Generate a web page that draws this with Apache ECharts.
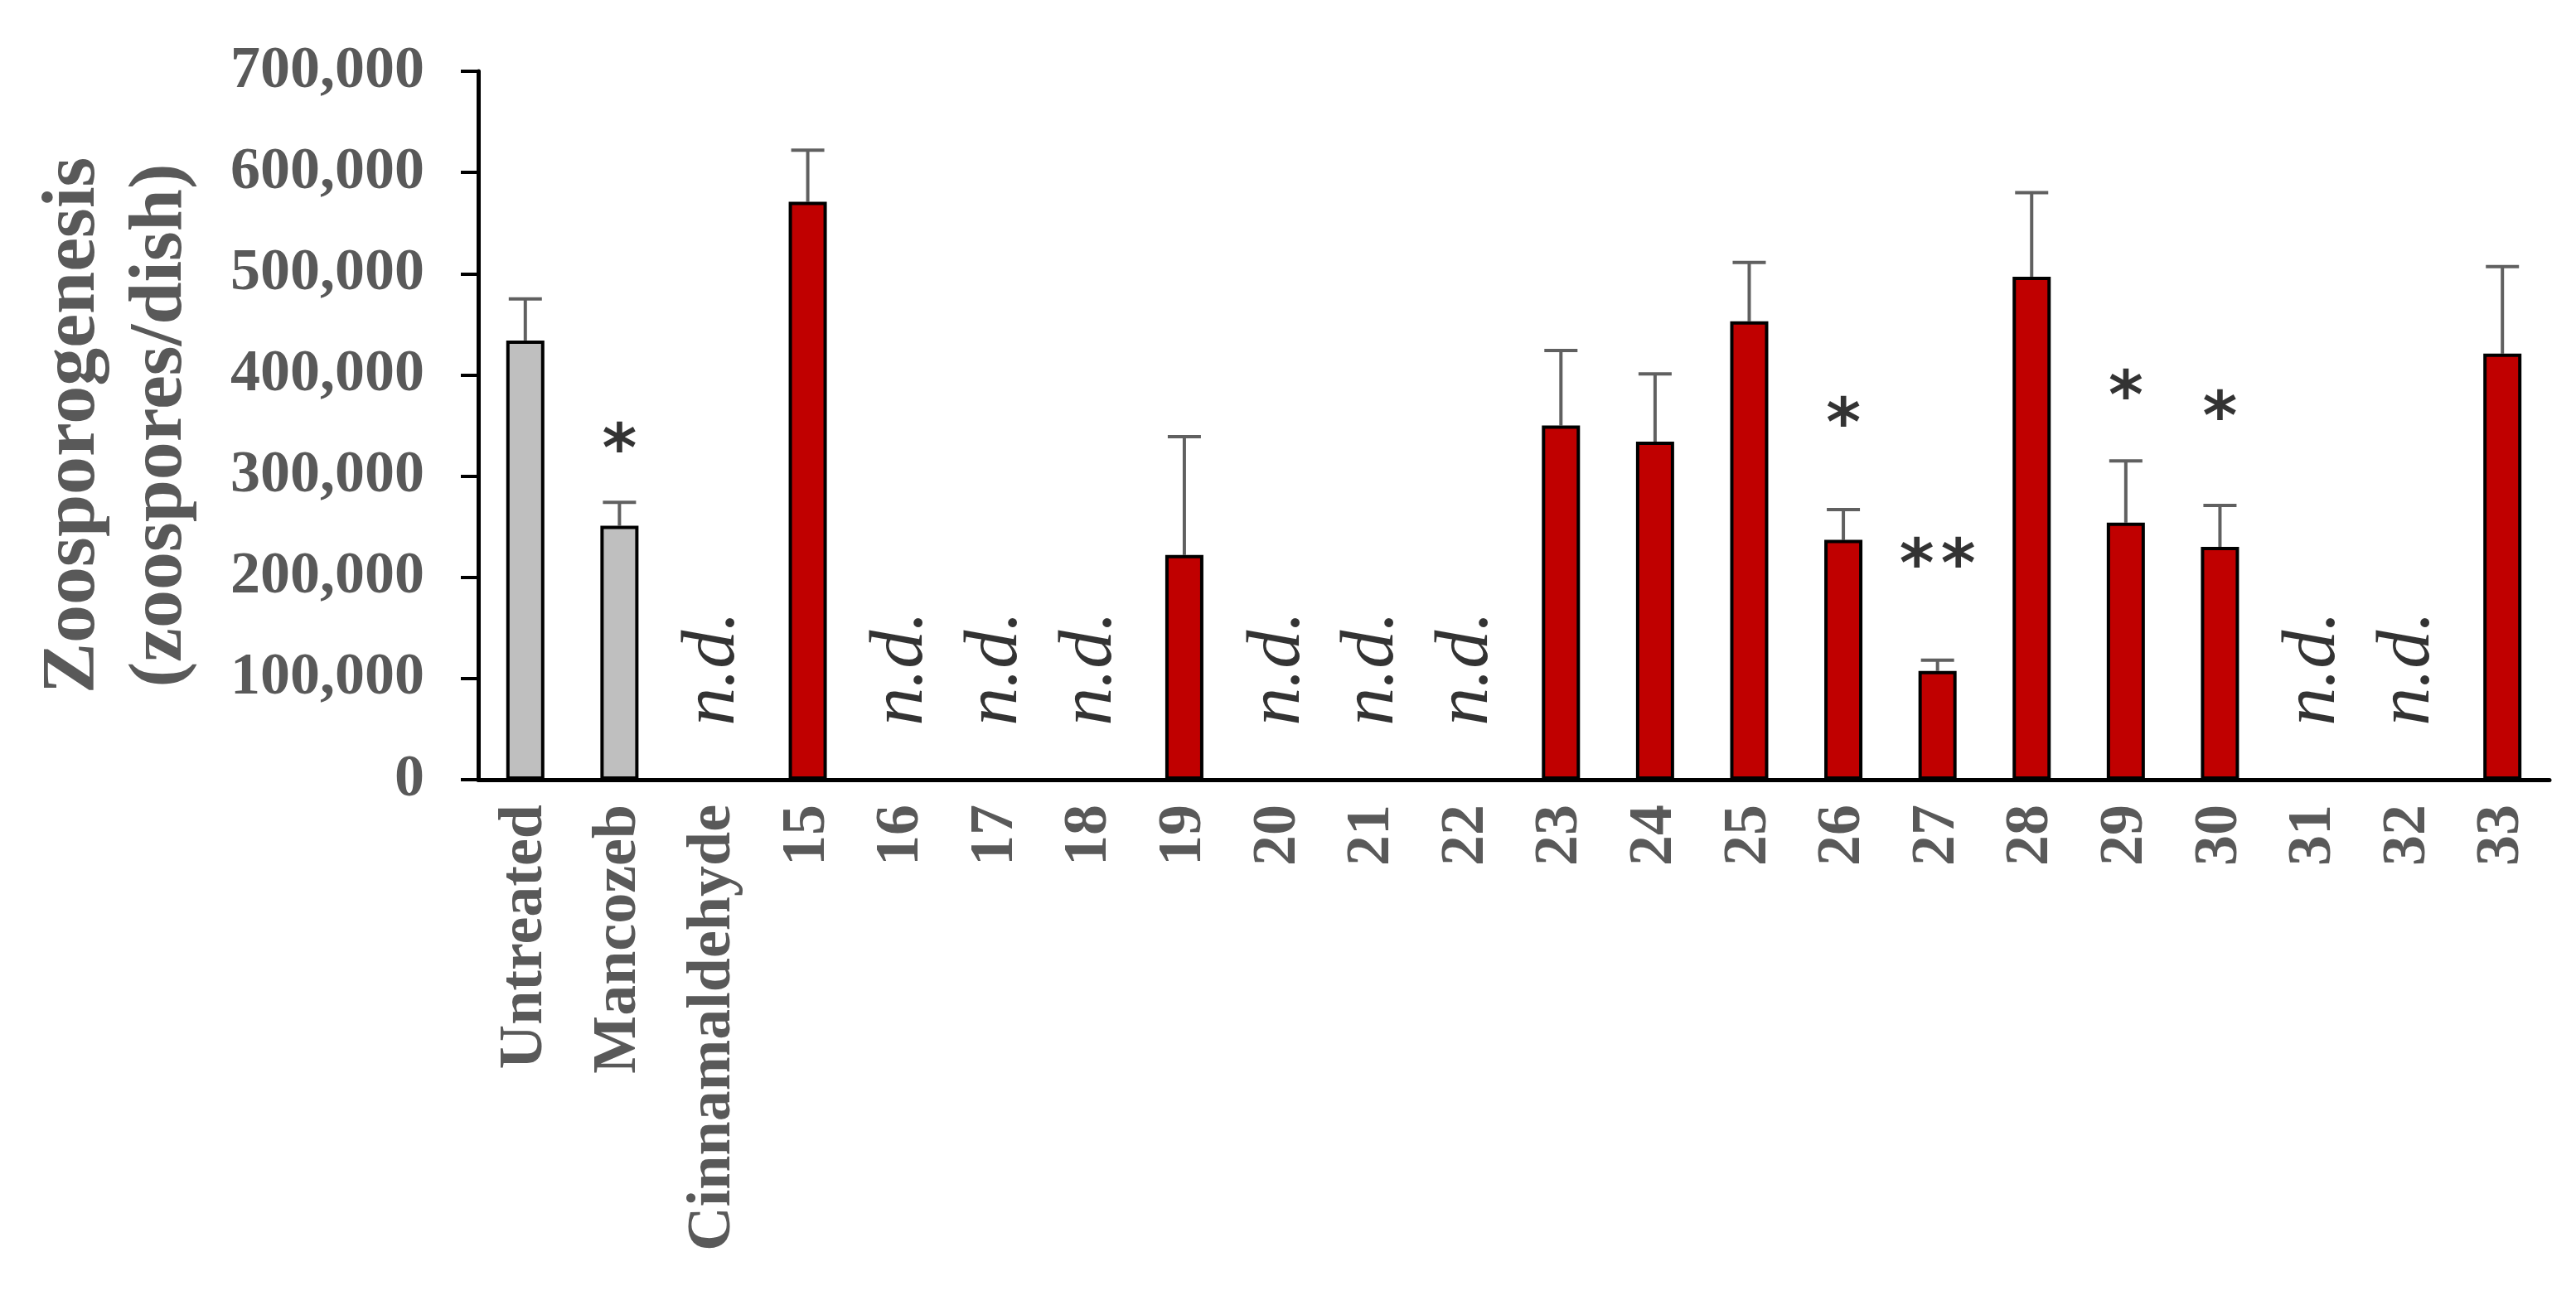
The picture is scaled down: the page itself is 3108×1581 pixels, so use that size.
<!DOCTYPE html>
<html>
<head>
<meta charset="utf-8">
<script src="https://cdn.jsdelivr.net/npm/echarts@6/dist/echarts.min.js"></script>
<style>
  html, body { margin: 0; padding: 0; background: #fff; }
  #bar-chart { width: 3108px; height: 1581px; }
</style>
</head>
<body>
<div id="bar-chart"></div>
<script>
// treatments on the x axis
var categories = ["Untreated", "Mancozeb", "Cinnamaldehyde", "15", "16", "17", "18", "19", "20", "21", "22",
    "23", "24", "25", "26", "27", "28", "29", "30", "31", "32", "33"];
// mean zoospores per dish (null = not detected)
var means = [434000, 251000, null, 571000, null, null, null, 222000, null, null, null,
    350000, 334000, 453000, 237000, 107500, 497000, 254000, 230000, null, null, 421000];
// upper error (SD)
var errors = [41000, 23000, null, 51000, null, null, null, 117000, null, null, null,
    74000, 67000, 58000, 30000, 10500, 83000, 61000, 41000, null, null, 86000];
// significance marks and the height they sit at
var sigMarks = [null, "*", null, null, null, null, null, null, null, null, null,
    null, null, null, "*", "**", null, "*", "*", null, null, null];
var sigLevels = [null, 322000, null, null, null, null, null, null, null, null, null,
    null, null, null, 348000, 209000, null, 375000, 354000, null, null, null];
var ndLevel = 110000;
var controls = ["Untreated", "Mancozeb"];

var serif = "'Liberation Serif', 'Times New Roman', serif";
var grey = "#595959";

var dom = document.getElementById("bar-chart"), myChart = echarts.init(dom, null, { renderer: "canvas" });

var barData = means.map(function (v, i) {
    return {
        value: v,
        itemStyle: { color: controls.indexOf(categories[i]) >= 0 ? "#bfbfbf" : "#c00000" }
    };
});
var errData = [], ndData = [], sigData = [];
means.forEach(function (v, i) {
    if (v == null) ndData.push([i, ndLevel]);
    else errData.push([i, v, v + errors[i]]);
    if (sigMarks[i]) sigData.push([i, sigLevels[i], sigMarks[i]]);
});

var option = {
    backgroundColor: "#fff",
    animation: false,
    grid: { left: 577, right: 32, top: 86, bottom: 640, containLabel: false, outerBoundsMode: "none" },
    xAxis: {
        type: "category",
        data: categories,
        axisLine: { lineStyle: { color: "#000", width: 5 } },
        axisTick: { show: false },
        axisLabel: {
            rotate: 90, margin: 30, interval: 0,
            fontFamily: serif, fontWeight: "bold", fontSize: 74, color: grey
        }
    },
    yAxis: {
        type: "value",
        min: 0, max: 700000, interval: 100000,
        name: "Zoosporogenesis\n(zoospores/dish)",
        nameLocation: "middle",
        nameRotate: 90,
        nameGap: 330,
        nameTextStyle: { fontFamily: serif, fontWeight: "bold", fontSize: 92, lineHeight: 105, color: grey },
        axisLine: { show: true, lineStyle: { color: "#000", width: 5 } },
        axisTick: { show: true, length: 21, lineStyle: { color: "#000", width: 4 } },
        splitLine: { show: false },
        axisLabel: {
            margin: 65,
            fontFamily: serif, fontWeight: "bold", fontSize: 72, color: grey,
            formatter: function (v) { return v.toLocaleString("en-US"); }
        }
    },
    series: [{
        type: "bar",
        data: barData,
        barWidth: 46,
        itemStyle: { borderColor: "#000", borderWidth: 4 },
        z: 2
    }, {
        type: "custom",
        data: errData,
        z: 1,
        renderItem: function (params, api) {
            var top = api.coord([api.value(0), api.value(2)]);
            var base = api.coord([api.value(0), api.value(1)]);
            var half = 20;
            var st = { stroke: "#606060", lineWidth: 4 };
            return {
                type: "group",
                children: [
                    { type: "line", shape: { x1: top[0], y1: top[1], x2: base[0], y2: base[1] }, style: st },
                    { type: "line", shape: { x1: top[0] - half, y1: top[1], x2: top[0] + half, y2: top[1] }, style: st }
                ]
            };
        }
    }, {
        type: "scatter",
        data: ndData,
        symbolSize: 0,
        label: {
            show: true, position: "inside", rotate: 90,
            formatter: "n.d.",
            fontFamily: serif, fontStyle: "italic", fontSize: 92, color: "#000"
        },
        z: 3
    }, {
        type: "scatter",
        data: sigData,
        symbolSize: 0,
        label: {
            show: true, position: "inside",
            formatter: function (p) { return p.value[2].split("").join("\u200A"); },
            fontFamily: "'DejaVu Sans', sans-serif", fontWeight: "bold", fontSize: 80, color: "#000"
        },
        z: 3
    }]
};
option && "object" == typeof option && myChart.setOption(option, !0);
</script>
</body>
</html>
